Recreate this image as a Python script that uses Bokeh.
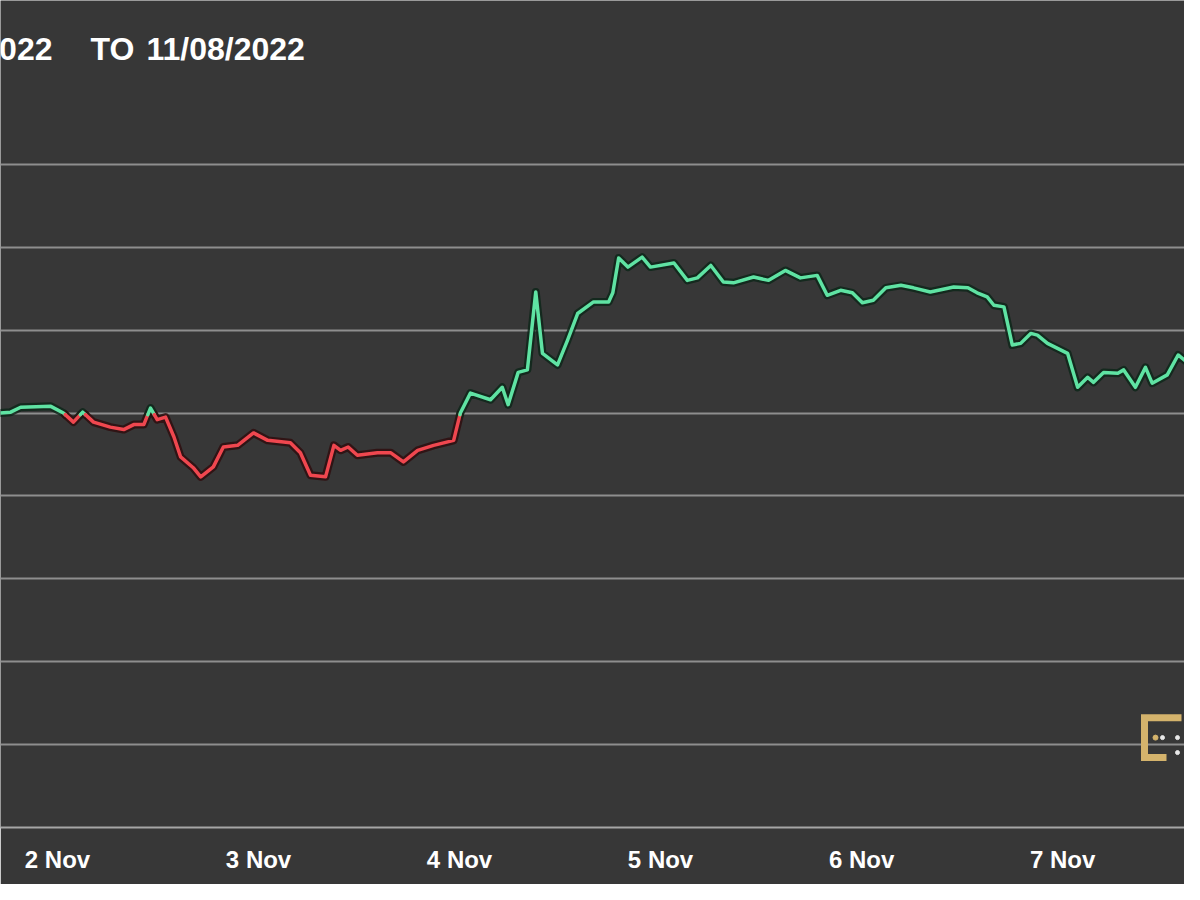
from bokeh.plotting import figure
from bokeh.models import Range1d, FixedTicker, Label
from bokeh.embed import file_html
from bokeh.resources import INLINE

# ---- data (hours since 1 Nov 2022 00:00, price in USD) ----
hours = [17.2, 18.4, 19.6, 23.2, 24.7, 25.9, 27.0, 28.3, 30.3, 31.9, 33.1, 34.3,
         35.1, 35.9, 36.9, 37.9, 38.7, 40.2, 41.1, 42.6, 43.8, 45.5, 47.4, 49.1,
         51.8, 53.0, 54.2, 56.0, 57.0, 57.8, 58.7, 59.8, 62.2, 63.8, 65.3, 67.0,
         68.9, 71.3, 72.1, 73.3, 75.7, 77.1, 77.8, 79.0, 80.1, 81.1, 81.9, 83.7,
         84.9, 86.1, 88.0, 89.8, 90.3, 91.0, 92.1, 93.8, 94.8, 97.6, 99.2, 100.4,
         102.0, 103.5, 104.7, 107.1, 108.9, 110.9, 112.7, 114.7, 115.9, 117.5,
         118.9, 120.1, 121.4, 122.9, 124.7, 126.2, 128.2, 131.0, 132.7, 133.8,
         135.0, 135.8, 137.0, 138.0, 139.0, 140.2, 141.0, 142.2, 144.6, 145.8,
         147.0, 147.7, 148.9, 150.6, 151.3, 152.7, 153.9, 154.7, 156.5, 157.8,
         158.9, 159.6, 160.5, 161.7]
price = [20500, 20505, 20535, 20540, 20500, 20445, 20505, 20445, 20415, 20400, 20430, 20430,
         20530, 20460, 20475, 20355, 20235, 20170, 20115, 20175, 20295, 20305, 20380, 20335,
         20320, 20260, 20125, 20115, 20305, 20275, 20295, 20245, 20260, 20260, 20205, 20275,
         20305, 20335, 20500, 20620, 20580, 20655, 20550, 20745, 20760, 21230, 20860, 20790,
         20940, 21100, 21170, 21170, 21225, 21435, 21380, 21440, 21380, 21405, 21300, 21315,
         21390, 21290, 21285, 21320, 21300, 21360, 21315, 21330, 21210, 21240,
         21225, 21165, 21180, 21255, 21270, 21255, 21230, 21260, 21255, 21225,
         21200, 21150, 21140, 20910, 20920, 20980, 20970, 20920, 20860, 20655,
         20715, 20685, 20745, 20740, 20760, 20655, 20775, 20680, 20730, 20850,
         20805, 20700, 20535, 20335]
baseline = 20490

tick_hours = [24, 48, 72, 96, 120, 144]
tick_labels = ["2 Nov", "3 Nov", "4 Nov", "5 Nov", "6 Nov", "7 Nov"]
grid_levels = [18500, 19000, 19500, 20000, 20500, 21000, 21500, 22000]
title_from, title_to_word, title_to = "022", "TO", "11/08/2022"

BG = "#373737"
GREEN = "#5fe3a3"
RED = "#f0474f"

W, H = 1184, 884
BOTTOM = 57
p = figure(width=W, height=H, output_backend="svg", toolbar_location=None,
           x_range=Range1d(17.19, 158.56), y_range=Range1d(18000, 22988),
           min_border_left=0, min_border_right=0, min_border_top=0, min_border_bottom=BOTTOM)
p.background_fill_color = BG
p.border_fill_color = BG
p.outline_line_color = None
p.yaxis.visible = False
p.xgrid.visible = False
p.ygrid.ticker = FixedTicker(ticks=grid_levels)
p.ygrid.grid_line_color = "#8e8e8e"
p.ygrid.grid_line_width = 2

ax = p.xaxis[0]
ax.ticker = FixedTicker(ticks=tick_hours)
ax.major_label_overrides = {h: l for h, l in zip(tick_hours, tick_labels)}
ax.major_tick_out = 0
ax.major_tick_in = 0
ax.minor_tick_out = 0
ax.minor_tick_in = 0
ax.axis_line_color = "#a6a6a6"
ax.axis_line_width = 2
ax.major_label_text_color = "white"
ax.major_label_text_font = "Liberation Sans"
ax.major_label_text_font_style = "bold"
ax.major_label_text_font_size = "24px"
ax.major_label_standoff = 18

# split line into runs above / below the baseline
runs_x, runs_y, cols, shadow = [], [], [], []
cx, cy = [hours[0]], [price[0]]
up = price[0] >= baseline
for i in range(1, len(hours)):
    u = price[i] >= baseline
    if u == up:
        cx.append(hours[i]); cy.append(price[i])
    else:
        t = (baseline - price[i-1]) / (price[i] - price[i-1])
        xc = hours[i-1] + t * (hours[i] - hours[i-1])
        cx.append(xc); cy.append(baseline)
        runs_x.append(cx); runs_y.append(cy)
        cols.append(GREEN if up else RED); shadow.append("#0b2518" if up else "#2e0b0d")
        cx, cy = [xc, hours[i]], [baseline, price[i]]
        up = u
runs_x.append(cx); runs_y.append(cy)
cols.append(GREEN if up else RED); shadow.append("#0b2518" if up else "#2e0b0d")

p.multi_line(runs_x, runs_y, line_color=shadow, line_width=8, line_alpha=0.8,
             line_join="round", line_cap="round")
p.multi_line(runs_x, runs_y, line_color=cols, line_width=3.5,
             line_join="round", line_cap="round")

# title (its start is cut off in the source, only "022" shows)
ty = (H - BOTTOM) - 48
for txt, x, align in [(title_from, 52, "right"), (title_to_word, 90, "left"), (title_to, 146, "left")]:
    p.add_layout(Label(x=x, y=ty, x_units="screen", y_units="screen", text=txt,
                       text_align=align, text_baseline="middle", text_color="white",
                       text_font="Liberation Sans", text_font_style="bold",
                       text_font_size="32px"))

# watermark logo mark
def hx(px):
    return 17.19 + px * (158.56 - 17.19) / 1184.0
def vy(py):
    return 20500 + (413 - py) * 500.0 / 83.0

GOLD = "#d4b36c"
p.line([hx(1181), hx(1144), hx(1144), hx(1166)], [vy(718), vy(718), vy(758), vy(758)],
       line_color=GOLD, line_width=7, line_join="miter")
p.scatter([hx(1162), hx(1177), hx(1177)], [vy(738), vy(738), vy(753)],
          size=4, color="#e8e8e8")
p.scatter([hx(1155)], [vy(738)], size=5, color=GOLD)

open("out.html", "w").write(file_html(p, INLINE))
